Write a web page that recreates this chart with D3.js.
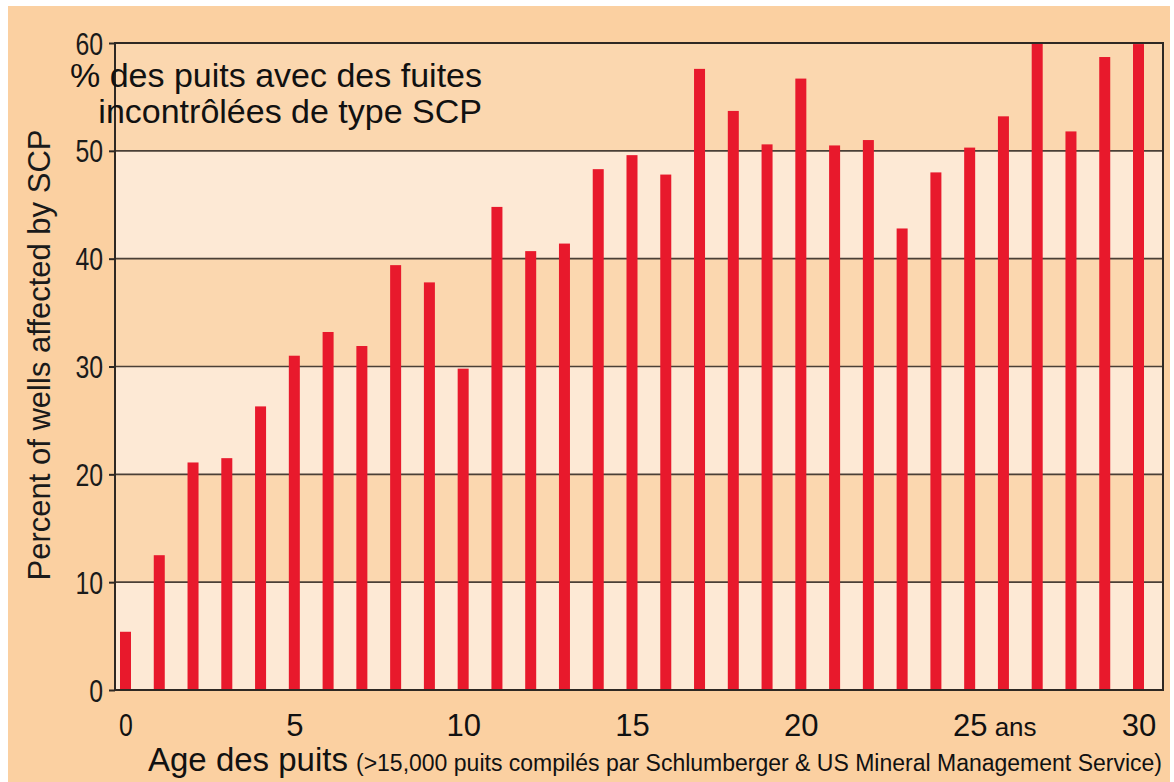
<!DOCTYPE html>
<html><head><meta charset="utf-8">
<script src="https://cdn.jsdelivr.net/npm/d3@7"></script>
<style>body{margin:0;background:#fff}svg{display:block}</style>
</head><body><svg id="c" width="1174" height="782"></svg>
<script>
const ages = d3.range(0, 31);
const percents = [5.4,12.5,21.1,21.5,26.3,31.0,33.2,31.9,39.4,37.8,29.8,44.8,40.7,41.4,48.3,49.6,47.8,57.6,53.7,50.6,56.7,50.5,51.0,42.8,48.0,50.3,53.2,60.0,51.8,58.7,59.9];
const yTicks = [0,10,20,30,40,50,60];
const xTicks = [0,5,10,15,20,25,30];
const titleLines = ["% des puits avec des fuites","incontrôlées de type SCP"];
const yLabel = "Percent of wells affected by SCP";
const xLabelMain = "Age des puits";
const xLabelNote = "(>15,000  puits compilés par Schlumberger & US Mineral Management Service)";
const xUnit = "ans";

const svg = d3.select("#c");
const L=115, R=1163, T=43, B=690;
const x = d3.scaleLinear().domain([0,30]).range([125.5,1138.5]);
const y = d3.scaleLinear().domain([0,60]).range([B,T]);
const sans = "'Liberation Sans',Arial,Helvetica,sans-serif";

svg.append("rect").attr("x",8).attr("y",6).attr("width",1162).attr("height",776).attr("fill","#fbd0a1");

// bands
svg.append("g").selectAll("rect").data(d3.range(0,60,10)).join("rect")
  .attr("x",L).attr("width",R-L)
  .attr("y",d=>y(d+10)).attr("height",d=>y(d)-y(d+10))
  .attr("fill",d=>(d/10)%2===0?"#fde9d5":"#fbd7af");

// gridlines
svg.append("g").selectAll("line").data(yTicks.filter(t=>t>0&&t<60)).join("line")
  .attr("x1",L).attr("x2",R).attr("y1",d=>y(d)).attr("y2",d=>y(d))
  .attr("stroke","#4a3f36").attr("stroke-width",1.6);

// bars
svg.append("g").selectAll("rect").data(ages).join("rect")
  .attr("x",d=>x(d)-5.5).attr("width",11)
  .attr("y",d=>y(percents[d])).attr("height",d=>B-y(percents[d]))
  .attr("fill","#e8192c");

// frame
svg.append("rect").attr("x",L).attr("y",T).attr("width",R-L).attr("height",B-T)
  .attr("fill","none").attr("stroke","#2e2823").attr("stroke-width",2);

// y axis
const ya = svg.append("g").attr("transform",`translate(${L},0)`)
  .call(d3.axisLeft(y).tickValues(yTicks).tickSize(6).tickPadding(9));
ya.select(".domain").remove();
ya.selectAll("line").attr("stroke","#2e2823").attr("stroke-width",2);
ya.selectAll("text").style("font-family",sans).style("font-size","31px").attr("fill","#1a1a1a")
  .attr("dy","0.36em").attr("transform","scale(0.8,1)");

// x axis labels
const xa = svg.append("g").attr("transform",`translate(0,${B})`)
  .call(d3.axisBottom(x).tickValues(xTicks).tickSize(0).tickPadding(24));
xa.select(".domain").remove();
xa.selectAll("text").style("font-family",sans).style("font-size","31px").attr("fill","#111").attr("dy","0.71em");
xa.selectAll(".tick").filter(d=>d===0).select("text").attr("transform","scale(0.8,1)");
svg.append("text").attr("x",x(25)+25).attr("y",B+46).style("font-family",sans).style("font-size","26px").attr("fill","#111").text(xUnit);

// y label
svg.append("text").attr("transform","translate(50,355) rotate(-90)").attr("text-anchor","middle")
  .style("font-family",sans).style("font-size","31px").attr("fill","#1a1a1a").text(yLabel);

// title
svg.append("g").selectAll("text").data(titleLines).join("text")
  .attr("x",482).attr("y",(d,i)=>87+i*36).attr("text-anchor","end")
  .style("font-family",sans).style("font-size","34px").attr("fill","#111").text(d=>d);

// x label
const xl = svg.append("text").attr("x",148).attr("y",771).style("font-family",sans).attr("fill","#111");
xl.append("tspan").style("font-size","33px").text(xLabelMain);
xl.append("tspan").style("font-size","23px").attr("dx",8).text(xLabelNote);
</script></body></html>
